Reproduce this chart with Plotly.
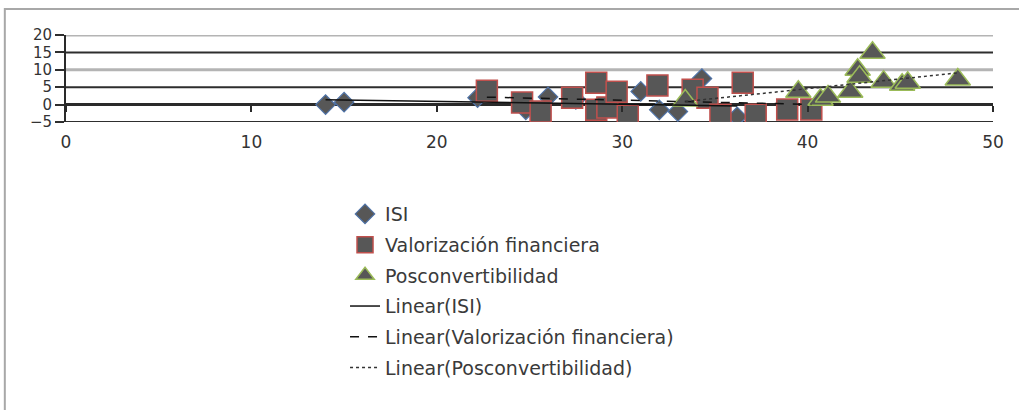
import numpy as np
import plotly.graph_objects as go

# ISI period
isi_x = [14.0, 15.0, 22.2, 24.8, 26.0, 27.5, 31.0, 32.0, 33.0, 34.3, 35.7, 36.2]
isi_y = [0.0, 0.7, 2.0, -1.5, 2.2, 1.5, 3.8, -1.5, -2.0, 7.5, -5.8, -3.5]

# Valorización financiera period
vf_x = [22.7, 24.6, 25.6, 27.3, 28.6, 28.6, 29.2, 29.7, 30.3, 31.9,
        33.8, 34.6, 35.3, 36.5, 37.2, 38.9, 40.2]
vf_y = [4.0, 0.6, -2.0, 2.0, 6.3, -1.5, -0.8, 3.7, -3.2, 5.5,
        4.3, 2.0, -2.9, 6.3, -2.9, -1.4, -1.4]

# Posconvertibilidad period
pc_x = [33.4, 39.5, 40.7, 41.1, 42.3, 42.7, 42.8, 43.5, 44.1, 45.1, 45.4, 48.1]
pc_y = [1.2, 3.7, 1.4, 2.3, 3.7, 10.0, 8.0, 14.9, 6.6, 5.7, 6.3, 7.2]

x_ticks = [0, 10, 20, 30, 40, 50]
y_ticks = [-5, 0, 5, 10, 15, 20]

FONT = "DejaVu Sans"
FILL = "#575757"


def linear_fit(xs, ys):
    slope, intercept = np.polyfit(xs, ys, 1)
    x0, x1 = min(xs), max(xs)
    return [x0, x1], [slope * x0 + intercept, slope * x1 + intercept]


fig = go.Figure()

fig.add_trace(go.Scatter(
    x=isi_x, y=isi_y, mode="markers", name="ISI", legendgroup="g1",
    marker=dict(symbol="diamond", size=15, color=FILL,
                line=dict(color="#4f73a8", width=1.2)),
))
fig.add_trace(go.Scatter(
    x=vf_x, y=vf_y, mode="markers", name="Valorización financiera",
    legendgroup="g2",
    marker=dict(symbol="square", size=21, color=FILL,
                line=dict(color="#c0504d", width=1.5)),
))
fig.add_trace(go.Scatter(
    x=pc_x, y=pc_y, mode="markers", name="Posconvertibilidad",
    legendgroup="g3",
    marker=dict(symbol="triangle-up", size=22, color=FILL,
                line=dict(color="#9bbb59", width=1.5)),
))

for i, (name, xs, ys, dash, color) in enumerate([
    ("Linear(ISI)", isi_x, isi_y, "solid", "#111111"),
    ("Linear(Valorización financiera)", vf_x, vf_y, "dash", "#111111"),
    ("Linear(Posconvertibilidad)", pc_x, pc_y, "dot", "#333333"),
]):
    lx, ly = linear_fit(xs, ys)
    fig.add_trace(go.Scatter(
        x=lx, y=ly, mode="lines", name=name, legendgroup=f"t{i}",
        line=dict(color=color, width=1.5, dash=dash),
    ))

# horizontal gridlines: alternating light/dark as in the worksheet chart
shapes = []
for v in y_ticks:
    if v in (10, 20):
        color, width = "#b4b4b4", 3
    elif v == 0:
        color, width = "#2a2a2a", 3
    else:
        color, width = "#2e2e2e", 2
    shapes.append(dict(type="line", xref="paper", yref="y", x0=0, x1=1,
                       y0=v, y1=v, line=dict(color=color, width=width),
                       layer="below"))

# chart area frame
shapes.append(dict(type="rect", xref="paper", yref="paper",
                   x0=-0.066, x1=1.2, y0=-4.0, y1=1.3,
                   line=dict(color="#a8a8a8", width=2), layer="below"))

fig.update_layout(
    width=1019, height=410,
    margin=dict(l=66, r=26, t=35, b=288),
    paper_bgcolor="white", plot_bgcolor="white",
    font=dict(family=FONT, color="#333333", size=17),
    shapes=shapes,
    showlegend=True,
    legend=dict(
        x=0.301, y=-0.84, xanchor="left", yanchor="top",
        font=dict(family=FONT, size=19, color="#3a3a3a"),
        bgcolor="rgba(0,0,0,0)", tracegroupgap=3,
        traceorder="grouped", maxheight=400,
    ),
    xaxis=dict(
        range=[0, 50], tickvals=x_ticks, showgrid=False, zeroline=False,
        showline=False, ticks="", ticklabelstandoff=8,
        tickfont=dict(size=17, color="#333333"),
    ),
    xaxis2=dict(
        overlaying="x", matches="x", anchor="free", position=0.2,
        tickvals=x_ticks, ticks="outside", ticklen=6, tickwidth=2,
        tickcolor="#2a2a2a", showticklabels=False, showgrid=False,
        zeroline=False, showline=False,
    ),
    yaxis=dict(
        range=[-5, 20], tickvals=y_ticks, showgrid=False, zeroline=False,
        showline=True, linecolor="#2a2a2a", linewidth=2,
        ticks="outside", ticklen=9, tickwidth=2, tickcolor="#2e2e2e",
        tickfont=dict(size=15, color="#333333"),
    ),
)

# keep the secondary x axis (tick marks crossing the zero line) rendered
fig.add_trace(go.Scatter(x=[x_ticks[0]], y=[y_ticks[0]], xaxis="x2",
                         mode="markers", marker=dict(opacity=0),
                         showlegend=False, hoverinfo="skip"))

fig.write_html("out.html")
